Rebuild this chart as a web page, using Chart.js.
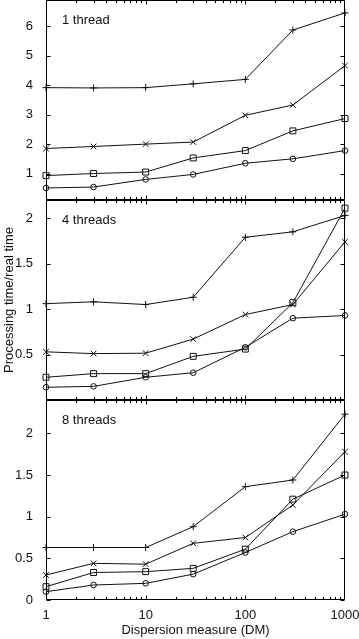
<!DOCTYPE html>
<html>
<head>
<meta charset="utf-8">
<script src="https://cdn.jsdelivr.net/npm/chart.js@4/dist/chart.umd.min.js"></script>
<style>
  html, body { margin: 0; padding: 0; background: #fff; }
  body { width: 359px; height: 639px; position: relative; overflow: hidden; }
  canvas { position: absolute; left: 0; }
</style>
</head>
<body>
<canvas id="c1" width="359" height="210" style="top:0px"></canvas>
<canvas id="c2" width="359" height="215" style="top:195px"></canvas>
<canvas id="c3" width="359" height="244" style="top:395px"></canvas>
<script>
// ---- Data ----
const dm = [1, 3, 10, 30, 100, 300, 1000];
const xTickValues = [1, 10, 100, 1000];
const xTickLabels = ['1', '10', '100', '1000'];

const panelTitles = ['1 thread', '4 threads', '8 threads'];

// 1 thread
const t1Plus   = [3.92, 3.91, 3.92, 4.05, 4.20, 5.88, 6.46];
const t1Cross  = [1.85, 1.92, 2.00, 2.07, 2.98, 3.33, 4.67];
const t1Square = [0.93, 1.00, 1.05, 1.53, 1.78, 2.45, 2.87];
const t1Circle = [0.51, 0.54, 0.80, 0.97, 1.35, 1.50, 1.78];
const y1Ticks = [1, 2, 3, 4, 5, 6];
const y1Labels = ['1', '2', '3', '4', '5', '6'];

// 4 threads
const t4Plus   = [1.06, 1.08, 1.05, 1.13, 1.79, 1.85, 2.03];
const t4Cross  = [0.53, 0.51, 0.515, 0.67, 0.94, 1.05, 1.74];
const t4Square = [0.25, 0.29, 0.29, 0.48, 0.56, 1.07, 2.11];
const t4Circle = [0.14, 0.15, 0.25, 0.30, 0.58, 0.90, 0.93];
const y2Ticks = [0.5, 1, 1.5, 2];
const y2Labels = ['0.5', '1', '1.5', '2'];

// 8 threads
const t8Plus   = [0.63, 0.63, 0.63, 0.88, 1.36, 1.44, 2.23];
const t8Cross  = [0.30, 0.44, 0.43, 0.68, 0.75, 1.14, 1.78];
const t8Square = [0.16, 0.33, 0.34, 0.38, 0.61, 1.21, 1.50];
const t8Circle = [0.10, 0.18, 0.20, 0.31, 0.57, 0.82, 1.03];
const y3Ticks = [0, 0.5, 1, 1.5, 2];
const y3Labels = ['0', '0.5', '1', '1.5', '2'];

const FONT = '"Liberation Sans", Arial, Helvetica, sans-serif';
const INK = '#111';

function mkSeries(name, values, style, radius) {
  return {
    label: name,
    data: dm.map((x, i) => ({ x: x, y: values[i] })),
    borderColor: INK,
    borderWidth: 1,
    pointStyle: style,
    pointRadius: radius,
    pointBorderColor: INK,
    pointBackgroundColor: 'rgba(0,0,0,0)',
    pointBorderWidth: 1,
    tension: 0,
    clip: false
  };
}

const boxPlugin = {
  id: 'boxTicks',
  afterDraw(chart, args, opts) {
    const ctx = chart.ctx;
    const a = chart.chartArea;
    const xs = chart.scales.x, ys = chart.scales.y;
    const L = Math.round(a.left) + 0.5, R = Math.round(a.right) - 0.5;
    const T = Math.round(a.top) + 0.5, B = Math.round(a.bottom) - 0.5;
    ctx.save();
    ctx.strokeStyle = '#000';
    ctx.lineWidth = 1;
    ctx.beginPath();
    ctx.rect(L, T, R - L, B - T);
    // x ticks (log decades, minor + major)
    for (let d = 1; d < 1000; d *= 10) {
      for (let m = 1; m <= 9; m++) {
        const v = d * m;
        if (v === 1) continue;
        const px = Math.round(xs.getPixelForValue(v)) + 0.5;
        const len = (m === 1) ? 4 : 2.5;
        ctx.moveTo(px, B); ctx.lineTo(px, B - len);
        ctx.moveTo(px, T); ctx.lineTo(px, T + len);
      }
    }
    // y ticks
    (opts.yTicks || []).forEach(v => {
      const py = Math.round(ys.getPixelForValue(v)) + 0.5;
      ctx.moveTo(L, py); ctx.lineTo(L + 4, py);
      ctx.moveTo(R, py); ctx.lineTo(R - 4, py);
    });
    ctx.stroke();
    // panel label
    if (opts.title) {
      ctx.fillStyle = INK;
      ctx.font = '13px ' + FONT;
      ctx.textAlign = 'left';
      ctx.textBaseline = 'middle';
      ctx.fillText(opts.title, a.left + 16, a.top + 20.5);
    }
    ctx.restore();
  }
};

function makePanel(id, series, yMin, yMax, yTicks, yLabels, title, isBottom, yTitle, pad) {
  const xScale = {
    type: 'logarithmic',
    min: 1, max: 1000,
    display: isBottom,
    grid: { display: false },
    border: { display: false },
    afterBuildTicks: s => { s.ticks = xTickValues.map(v => ({ value: v })); },
    afterFit: s => {
      if (isBottom) { s.height = 39; }
      s.paddingLeft = 0; s.paddingRight = 0;
    },
    ticks: {
      autoSkip: false, maxRotation: 0, padding: 0,
      color: INK, font: { family: FONT, size: 13 },
      callback: (v, i) => xTickLabels[i]
    },
    title: {
      display: isBottom, text: 'Dispersion measure (DM)',
      color: INK, font: { family: FONT, size: 13 },
      padding: { top: 0, bottom: 1 }
    }
  };
  const yScale = {
    type: 'linear', min: yMin, max: yMax,
    grid: { display: false },
    border: { display: false },
    afterBuildTicks: s => { s.ticks = yTicks.map(v => ({ value: v })); },
    afterFit: s => { s.width = 46; s.paddingTop = 0; s.paddingBottom = 0; },
    ticks: {
      padding: 5, color: INK, font: { family: FONT, size: 13 },
      callback: (v, i) => yLabels[i]
    },
    title: {
      display: !!yTitle, text: yTitle || '',
      color: INK, font: { family: FONT, size: 13 },
      padding: { top: 2, bottom: 0 }
    }
  };
  return new Chart(document.getElementById(id), {
    type: 'line',
    data: { datasets: series },
    options: {
      responsive: false,
      animation: false,
      devicePixelRatio: 1,
      layout: { autoPadding: false, padding: pad },
      scales: { x: xScale, y: yScale },
      plugins: {
        legend: { display: false },
        tooltip: { enabled: false },
        boxTicks: { yTicks: yTicks, title: title }
      }
    },
    plugins: [boxPlugin]
  });
}

makePanel('c1', [
  mkSeries('+', t1Plus, 'cross', 3.5),
  mkSeries('×', t1Cross, 'crossRot', 4),
  mkSeries('□', t1Square, 'rect', 4.2),
  mkSeries('○', t1Circle, 'circle', 2.8)
], 0.1, 6.9, y1Ticks, y1Labels, panelTitles[0], false, null,
  { top: 0, bottom: 10, left: 0, right: 14 });

makePanel('c2', [
  mkSeries('+', t4Plus, 'cross', 3.5),
  mkSeries('×', t4Cross, 'crossRot', 4),
  mkSeries('□', t4Square, 'rect', 4.2),
  mkSeries('○', t4Circle, 'circle', 2.8)
], 0, 2.2, y2Ticks, y2Labels, panelTitles[1], false, 'Processing time/real time',
  { top: 5, bottom: 10, left: 0, right: 14 });

makePanel('c3', [
  mkSeries('+', t8Plus, 'cross', 3.5),
  mkSeries('×', t8Cross, 'crossRot', 4),
  mkSeries('□', t8Square, 'rect', 4.2),
  mkSeries('○', t8Circle, 'circle', 2.8)
], 0, 2.4, y3Ticks, y3Labels, panelTitles[2], true, null,
  { top: 5, bottom: 0, left: 0, right: 14 });
</script>
</body>
</html>
